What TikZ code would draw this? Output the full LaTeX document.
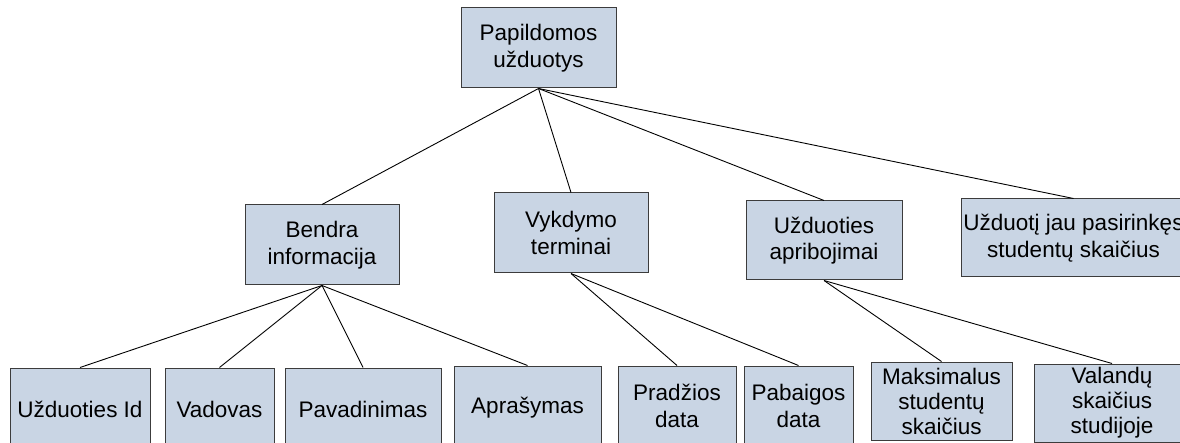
\documentclass[tikz,border=0pt]{standalone}
\usepackage{fontspec}
\setmainfont{Liberation Sans}
\definecolor{boxline}{RGB}{60,60,60}
\definecolor{boxfill}{RGB}{201,213,228}
\begin{document}
\begin{tikzpicture}[x=1pt,y=-1pt,
  box/.style={draw=boxline, line width=1pt,
    fill=boxfill, align=center, inner sep=2pt,
    font=\fontsize{22.5}{26.5}\selectfont},
  link/.style={line width=0.9pt, black}]
\useasboundingbox (0,0) rectangle (1180,443);
\clip (0,0) rectangle (1180,443);
\fill[white] (0,0) rectangle (1180,443);

% root
\node[box, minimum width=155, minimum height=80] (root) at (538.5,48) {Papildomos\\užduotys};

% second level
\node[box, minimum width=154, minimum height=80] (bendra) at (322,245) {Bendra\\informacija};
\node[box, minimum width=154, minimum height=80] (vykd) at (571,233) {Vykdymo\\terminai};
\node[box, minimum width=156, minimum height=79] (aprib) at (824,240.5) {Užduoties\\apribojimai};
\node[box, minimum width=219, minimum height=78] (pasir) at (1073.5,238) {Užduotį jau pasirinkęs\\studentų skaičius};

% third level
\node[box, minimum width=140, minimum height=82] (id) at (80,409) {Užduoties Id};
\node[box, minimum width=109, minimum height=82] (vad) at (219.5,409) {Vadovas};
\node[box, minimum width=156, minimum height=82] (pav) at (363,409) {Pavadinimas};
\node[box, minimum width=147, minimum height=84] (apr) at (527.5,408) {Aprašymas};
\node[box, minimum width=118, minimum height=80] (prad) at (677,406) {Pradžios\\data};
\node[box, minimum width=109, minimum height=80] (pab) at (798.5,406) {Pabaigos\\data};
\node[box, minimum width=141, minimum height=78, font=\fontsize{22.5}{25}\selectfont] (maks) at (941.5,401) {Maksimalus\\studentų\\skaičius};
\node[box, minimum width=156, minimum height=78, font=\fontsize{22.5}{25}\selectfont] (val) at (1112,403) {Valandų\\skaičius\\studijoje};

% connectors
\foreach \c in {bendra,vykd,aprib,pasir}
  \draw[link] (root.south) -- (\c.north);
\foreach \c in {id,vad,pav,apr}
  \draw[link] (bendra.south) -- (\c.north);
\foreach \c in {prad,pab}
  \draw[link] (vykd.south) -- (\c.north);
\foreach \c in {maks,val}
  \draw[link] (aprib.south) -- (\c.north);
\end{tikzpicture}
\end{document}
